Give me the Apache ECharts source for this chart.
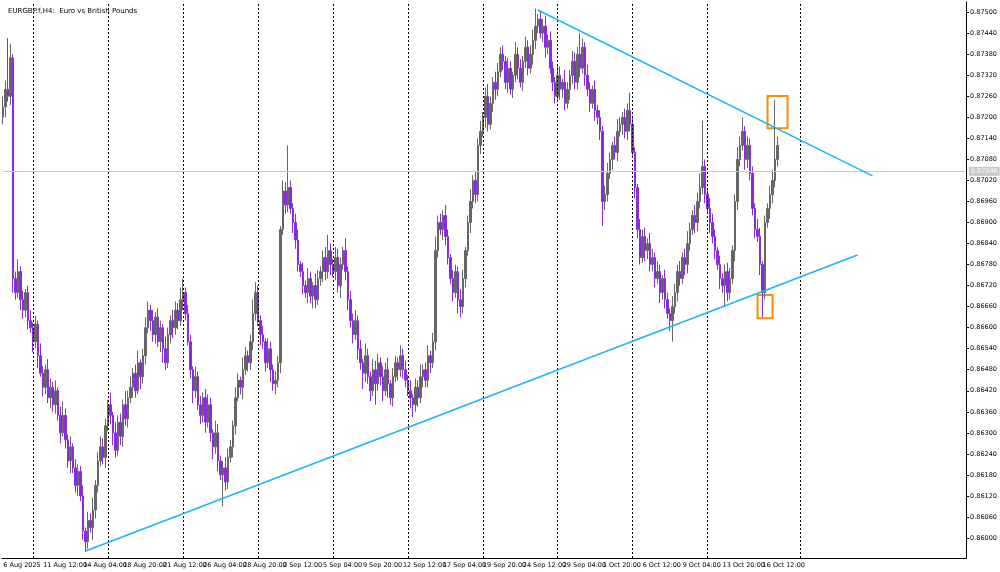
<!DOCTYPE html>
<html>
<head>
<meta charset="UTF-8">
<title>EURGBP H4</title>
<script src="https://cdn.jsdelivr.net/npm/echarts@6/dist/echarts.min.js"></script>
<style>html,body{margin:0;padding:0;background:#fff}</style>
</head>
<body>
<div id="main" style="width:1000px;height:572px;"></div>
<script>
// prices in points: 87200 = 0.87200
var firstOpen = 87200;
var closes = [
87230,87280,87260,87370, 86740,86700,86760,86680, 86650,86700,86620,86600,
86560,86610,86520,86470, 86430,86480,86400,86430, 86380,86420,86350,86300,
86350,86280,86220,86260, 86200,86150,86190,86120, 86020,85990,86050,86030,
86080,86150,86220,86260, 86230,86320,86380,86350, 86300,86250,86330,86290,
86380,86340,86400,86430, 86470,86420,86500,86460, 86520,86600,86650,86620,
86580,86630,86560,86600, 86540,86500,86580,86620, 86600,86650,86620,86680,
86700,86640,86560,86480, 86420,86460,86380,86350, 86400,86330,86380,86300,
86260,86300,86220,86180, 86200,86160,86230,86260, 86320,86400,86450,86430,
86480,86520,86500,86560, 86640,86700,86620,86580, 86560,86500,86540,86480,
86440,86450,86500,86880, 86990,86950,87000,86940, 86900,86850,86780,86760,
86720,86700,86740,86690, 86720,86680,86740,86760, 86800,86760,86820,86780,
86760,86800,86720,86780, 86820,86760,86680,86620, 86580,86620,86540,86500,
86470,86520,86460,86420, 86480,86440,86500,86460, 86420,86480,86440,86400,
86460,86500,86480,86520, 86480,86450,86420,86400, 86380,86430,86400,86460,
86480,86450,86520,86500, 86560,86820,86900,86880, 86920,86860,86800,86740,
86700,86760,86680,86660, 86740,86820,86900,86960, 87020,86980,87120,87160,
87200,87260,87180,87240, 87300,87280,87330,87380, 87360,87300,87340,87280,
87320,87380,87340,87300, 87360,87400,87340,87380, 87420,87460,87480,87440,
87460,87400,87420,87340, 87300,87260,87320,87280, 87300,87240,87280,87320,
87360,87300,87380,87340, 87400,87320,87280,87240, 87280,87220,87200,87160,
86960,86980,87040,87080, 87120,87100,87160,87180, 87200,87160,87220,87180,
87100,87000,86880,86800, 86860,86820,86840,86780, 86800,86740,86760,86700,
86740,86680,86640,86620, 86660,86700,86760,86740, 86800,86780,86840,86880,
86920,86900,86960,87000, 87060,86980,86940,86900, 86860,86820,86780,86740,
86720,86760,86700,86740, 86820,86960,87080,87120, 87160,87080,87120,87040,
86940,86880,86860,86780, 86700,86900,86940,86980, 87020,87080,87120
];
var upWick = [
30,25,146,40,10,20,35,15,25,10, 20,30,15,25,10,35,20,15,30,25,
15,30,10,25,40,20,15,30,10,25, 20,15,30,10,25,20,35,15,25,30,
25,20,15,35,10,30,20,25,15,40, 20,30,15,25,35,10,20,30,25,15,
30,15,25,20,10,35,20,15,30,25, 20,35,40,15,25,20,10,30,15,25,
15,25,30,20,10,35,25,15,20,30, 25,20,15,30,20,10,35,25,15,20,
40,30,20,15,25,10,30,20,15,25, 20,10,30,25,120,20,15,25,30,10,
25,15,30,20,10,35,25,15,20,30, 45,20,15,30,25,20,10,35,15,25,
20,30,15,25,10,35,20,15,30,25, 25,15,30,20,35,10,25,20,15,30,
20,25,15,30,10,25,20,35,15,20, 30,15,25,40,20,25,15,30,20,10,
25,20,15,30,25,10,20,35,15,25, 20,30,15,25,35,20,15,30,25,20,
25,15,30,20,10,35,20,25,15,30, 20,25,30,50,15,25,20,30,15,25,
20,15,30,25,10,35,20,15,30,25, 20,60,25,15,30,20,10,25,15,20,
15,25,30,20,10,25,35,20,15,25, 20,50,25,15,10,30,20,25,15,30,
25,15,30,20,10,25,20,15,30,25, 20,30,15,25,35,20,15,30,25,40,
130,20,15,30,25,20,10,25,15,20, 25,30,15,20,35,25,40,15,25,20,
20,15,30,25,10,20,15,25,30,170, 25
];
var dnWick = [
20,30,15,25,40,20,15,30,25,20, 25,15,30,20,35,10,25,20,15,30,
20,25,15,30,10,25,20,35,15,20, 30,15,25,30,20,15,35,25,20,15,
20,30,15,25,35,20,15,25,30,20, 25,15,30,20,10,35,20,25,15,30,
20,25,15,30,40,20,15,25,30,20, 25,15,30,20,10,25,35,20,15,25,
20,30,15,25,35,20,30,15,90,25, 20,15,30,25,10,20,35,15,25,20,
25,20,15,30,20,25,15,35,20,30, 20,30,15,25,20,15,30,25,20,15,
25,15,30,20,35,25,15,20,30,25, 20,30,15,25,20,35,15,25,30,20,
25,15,30,20,45,25,20,30,15,60, 20,25,30,15,40,20,25,15,30,20,
25,20,15,30,35,20,25,15,30,20, 20,30,15,25,20,15,30,25,20,15,
25,15,40,30,20,25,15,30,20,25, 20,25,15,30,20,15,25,30,20,15,
25,20,30,15,25,20,30,15,25,20, 20,15,30,25,20,15,25,30,20,15,
25,20,15,30,25,20,15,30,25,20, 20,25,15,30,20,25,15,30,20,25,
70,25,20,15,30,20,25,15,30,20, 25,20,15,30,25,20,15,30,25,20,
20,25,15,30,20,25,15,30,60,20, 25,20,15,30,25,20,15,30,25,20,
20,25,15,30,20,25,15,30,20,60, 25,20,15,30,25,20,15,30,25,20,
20,25,15,30,70,20,15,30,25,20, 20
];
var timeLabels = ['6 Aug 2025','11 Aug 12:00','14 Aug 04:00','18 Aug 20:00','21 Aug 12:00',
  '26 Aug 04:00','28 Aug 20:00','2 Sep 12:00','5 Sep 04:00','9 Sep 20:00','12 Sep 12:00',
  '17 Sep 04:00','19 Sep 20:00','24 Sep 12:00','29 Sep 04:00','1 Oct 20:00','6 Oct 12:00',
  '9 Oct 04:00','13 Oct 20:00','16 Oct 12:00'];
var priceTicks = [0.86000,0.86060,0.86120,0.86180,0.86240,0.86300,0.86360,0.86420,0.86480,
  0.86540,0.86600,0.86660,0.86720,0.86780,0.86840,0.86900,0.86960,0.87020,0.87080,0.87140,
  0.87200,0.87260,0.87320,0.87380,0.87440,0.87500];
var separators = [12, 42, 72, 102, 132, 162, 192, 222, 252, 282, 319];
var upperTrend = [[214, 0.87506], [348, 0.87033]];
var lowerTrend = [[33, 0.85963], [342, 0.86807]];
var boxes = [[[306, 0.87261], [314, 0.87169]], [[302, 0.86693], [308, 0.86627]]];
var currentPrice = 0.87046;

var slots = 386;
var cats = [];
for (var i = 0; i < slots; i++) cats.push(i % 16 === 0 && timeLabels[i / 16] ? timeLabels[i / 16] : '');

var candles = [];
var prev = firstOpen;
for (var i = 0; i < closes.length; i++) {
  var o = prev, c = closes[i];
  candles.push([o / 1e5, c / 1e5, (Math.min(o, c) - dnWick[i]) / 1e5, (Math.max(o, c) + upWick[i]) / 1e5]);
  prev = c;
}

var chart = echarts.init(document.getElementById('main'));
var font = 'DejaVu Sans';
var trendStyle = { color: '#1ab8f0', type: 'solid', width: 1.6 };
chart.setOption({
  animation: false,
  backgroundColor: '#fff',
  title: { text: 'EURGBP.f,H4:  Euro vs British Pounds', left: 3, top: 3,
    textStyle: { fontSize: 7, fontWeight: 'normal', color: '#000', fontFamily: font } },
  grid: { left: 2, right: 32, top: 2, bottom: 14 },
  xAxis: {
    type: 'category', data: cats, boundaryGap: true,
    axisLine: { lineStyle: { color: '#000' } },
    axisTick: { interval: 15, length: 3, lineStyle: { color: '#000' } },
    axisLabel: { interval: 15, align: 'left', fontSize: 6.5, color: '#000', fontFamily: font, margin: 4,
      hideOverlap: false, showMinLabel: true },
    splitLine: { show: false }
  },
  yAxis: {
    type: 'value', position: 'right', min: 0.85943, max: 0.87529, scale: true,
    axisLine: { show: true, lineStyle: { color: '#000' } },
    axisTick: { show: true, length: 3, customValues: priceTicks, lineStyle: { color: '#000' } },
    axisLabel: { customValues: priceTicks, fontSize: 6.5, color: '#000', fontFamily: font, margin: 4,
      formatter: function (v) { return v.toFixed(5); } },
    splitLine: { show: false }
  },
  series: [{
    type: 'candlestick', data: candles, barWidth: 2,
    itemStyle: { color: '#666666', color0: '#8a2be2', borderColor: '#666666', borderColor0: '#8a2be2', borderWidth: 1 },
    markLine: {
      symbol: 'none', silent: true,
      data: separators.map(function (s) {
        return { xAxis: s, lineStyle: { color: '#000', type: [2, 2], width: 1 }, label: { show: false } };
      }).concat([
        [{ coord: [0, currentPrice], lineStyle: { color: '#c8c8c8', type: 'solid', width: 1 },
           label: { show: true, position: 'end', formatter: currentPrice.toFixed(5), distance: 4,
             backgroundColor: '#c8c8c8', color: '#fff', fontSize: 6.5, padding: [1, 2], fontFamily: font } },
         { coord: [slots - 1, currentPrice] }],
        [{ coord: upperTrend[0], lineStyle: trendStyle, label: { show: false } }, { coord: upperTrend[1] }],
        [{ coord: lowerTrend[0], lineStyle: trendStyle, label: { show: false } }, { coord: lowerTrend[1] }]
      ])
    },
    markArea: {
      silent: true,
      itemStyle: { color: 'rgba(0,0,0,0)', borderColor: '#ff8c00', borderWidth: 2 },
      data: boxes.map(function (b) { return [{ coord: b[0] }, { coord: b[1] }]; })
    }
  }]
});
</script>
</body>
</html>
